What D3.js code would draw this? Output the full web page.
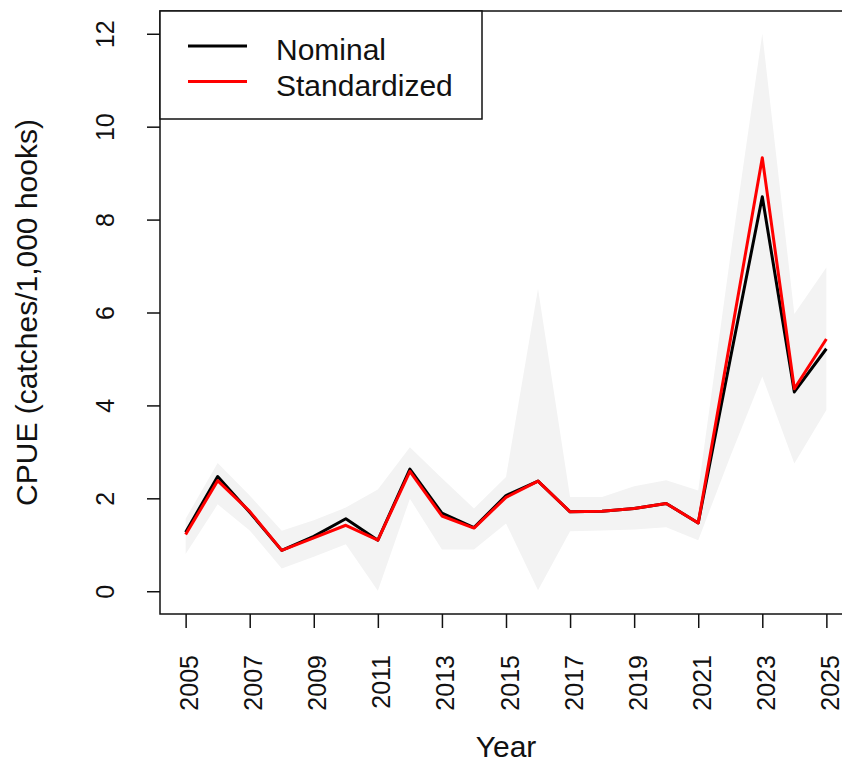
<!DOCTYPE html>
<html>
<head>
<meta charset="utf-8">
<script src="https://cdn.jsdelivr.net/npm/d3@7"></script>
<style>
  body { margin: 0; background: #fff; }
  svg { display: block; font-family: "Liberation Sans", Arial, sans-serif; }
</style>
</head>
<body>
<script>
      // Data
      var years = d3.range(2005, 2026);
      var nominal      = [1.27, 2.47, 1.70, 0.88, 1.18, 1.56, 1.10, 2.63, 1.68, 1.37, 2.06, 2.37, 1.71, 1.72, 1.78, 1.89, 1.47, 5.00, 8.49, 4.29, 5.22];
      var standardized = [1.22, 2.38, 1.72, 0.88, 1.15, 1.42, 1.10, 2.58, 1.62, 1.36, 2.02, 2.37, 1.71, 1.72, 1.78, 1.89, 1.47, 5.40, 9.33, 4.36, 5.43];
      var lower        = [0.80, 1.87, 1.31, 0.49, 0.74, 1.01, 0.01, 1.99, 0.90, 0.90, 1.46, 0.02, 1.29, 1.31, 1.33, 1.38, 1.10, 2.90, 4.62, 2.75, 3.90];
      var upper        = [1.56, 2.76, 2.06, 1.30, 1.53, 1.80, 2.19, 3.10, 2.43, 1.78, 2.46, 6.51, 2.03, 2.03, 2.26, 2.39, 2.17, 7.20, 12.0, 5.97, 6.97];
      var yTicks = [0, 2, 4, 6, 8, 10, 12];
      var xTicks = d3.range(2005, 2026, 2);
      var legendLabels = ["Nominal", "Standardized"];
      var legendColors = ["black", "red"];

      var w = 842, h = 764;
      var plot = {left: 160, right: 852, top: 11, bottom: 614};
      var ink = "#111";

      var x = d3.scaleLinear().domain([2004.2, 2025.8]).range([plot.left, plot.right]);
      var y = d3.scaleLinear().domain([-0.49, 12.49]).range([plot.bottom, plot.top]);

      var svg = d3.select("body").append("svg")
          .attr("width", w)
          .attr("height", h);

      svg.append("rect").attr("width", w).attr("height", h).attr("fill", "white");

    // confidence band
      var band = years.map((yr, i) => ({yr: yr, lo: lower[i], hi: upper[i]}));
      svg.append("path")
          .datum(band)
          .attr("fill", "#f3f3f3")
          .attr("d", d3.area().x(d => x(d.yr)).y0(d => y(d.lo)).y1(d => y(d.hi)));

    // lines (nominal first, standardized on top)
      var line = d3.line().x(d => x(d.yr)).y(d => y(d.v));
      [nominal, standardized].forEach(function (series, k) {
        svg.append("path")
            .datum(years.map((yr, i) => ({yr: yr, v: series[i]})))
            .attr("fill", "none")
            .attr("stroke", legendColors[k])
            .attr("stroke-width", 3)
            .attr("stroke-linejoin", "round")
            .attr("d", line);
      });

    // axes
      var yAxis = svg.append("g")
          .attr("transform", `translate(${plot.left},0)`)
          .call(d3.axisLeft(y).tickValues(yTicks).tickSize(13).tickPadding(0));
      yAxis.select(".domain").remove();
      yAxis.selectAll("line").attr("stroke", ink).attr("stroke-width", 1.5);
      yAxis.selectAll("text")
          .attr("font-size", 25)
          .attr("fill", ink)
          .attr("x", null).attr("dy", null)
          .attr("text-anchor", "middle")
          .attr("transform", "translate(-46,0) rotate(-90)");

      var xAxis = svg.append("g")
          .attr("transform", `translate(0,${plot.bottom})`)
          .call(d3.axisBottom(x).tickValues(xTicks).tickFormat(d3.format("d")).tickSize(14));
      xAxis.select(".domain").remove();
      xAxis.selectAll("line").attr("stroke", ink).attr("stroke-width", 1.5);
      xAxis.selectAll("text")
          .attr("font-size", 25)
          .attr("fill", ink)
          .attr("y", null).attr("dy", null)
          .attr("text-anchor", "end")
          .attr("transform", "translate(12,41) rotate(-90)");

    // plot box
      svg.append("rect")
          .attr("x", plot.left).attr("y", plot.top)
          .attr("width", plot.right - plot.left).attr("height", plot.bottom - plot.top)
          .attr("fill", "none").attr("stroke", ink).attr("stroke-width", 1.5);

    // axis titles
      svg.append("text")
          .attr("x", (plot.left + plot.right) / 2).attr("y", 757)
          .attr("text-anchor", "middle")
          .attr("font-size", 30).attr("fill", ink)
          .text("Year");

      svg.append("text")
          .attr("transform", `translate(37,${(plot.top + plot.bottom) / 2}) rotate(-90)`)
          .attr("text-anchor", "middle")
          .attr("font-size", 30).attr("fill", ink)
          .text("CPUE (catches/1,000 hooks)");

    // legend
      var lg = svg.append("g");
      lg.append("rect")
          .attr("x", plot.left).attr("y", plot.top)
          .attr("width", 322).attr("height", 108)
          .attr("fill", "white").attr("stroke", ink).attr("stroke-width", 1.5);
      legendLabels.forEach(function (lab, i) {
        var ly = 46 + i * 35.5;
        lg.append("line")
            .attr("x1", 188).attr("x2", 247).attr("y1", ly).attr("y2", ly)
            .attr("stroke", legendColors[i]).attr("stroke-width", 3);
        lg.append("text")
            .attr("x", 276).attr("y", ly + 14)
            .attr("font-size", 30).attr("fill", ink)
            .text(lab);
      });
</script>
</body>
</html>
